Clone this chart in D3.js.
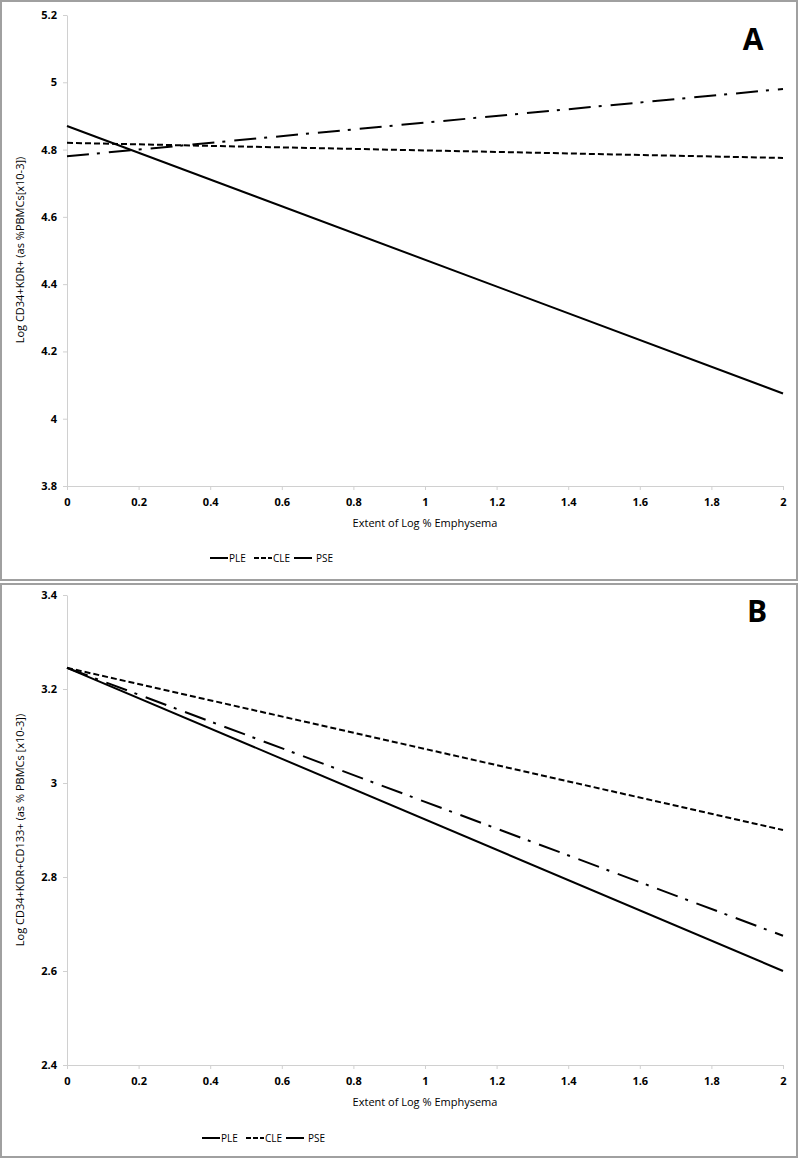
<!DOCTYPE html>
<html><head><meta charset="utf-8">
<script src="https://cdn.jsdelivr.net/npm/d3@7"></script>
<style>body{margin:0;background:#fff}svg{display:block}text{font-family:"Liberation Sans Narrow","Open Sans",sans-serif}</style>
</head><body><svg id="c" width="800" height="1159"></svg>
<script>
const xDomain = [0, 2];
const xTicks = [0, 0.2, 0.4, 0.6, 0.8, 1, 1.2, 1.4, 1.6, 1.8, 2];
const seriesNames = ["PLE", "CLE", "PSE"];
const aYTicks = [3.8, 4, 4.2, 4.4, 4.6, 4.8, 5, 5.2];
const aPLE = [[0, 4.87], [2, 4.075]];
const aCLE = [[0, 4.82], [2, 4.775]];
const aPSE = [[0, 4.78], [2, 4.98]];
const bYTicks = [2.4, 2.6, 2.8, 3, 3.2, 3.4];
const bPLE = [[0, 3.245], [2, 2.60]];
const bCLE = [[0, 3.245], [2, 2.90]];
const bPSE = [[0, 3.245], [2, 2.675]];

const dashes = {PLE: null, CLE: "6,3", PSE: "22,8,3,9"};
const svg = d3.select("#c");

function panel(cfg) {
  const g = svg.append("g");
  g.append("rect").attr("x", cfg.box[0]).attr("y", cfg.box[1]).attr("width", cfg.box[2]).attr("height", cfg.box[3])
    .attr("fill", "#fff").attr("stroke", "#a0a0a0").attr("stroke-width", 2);
  const x = d3.scaleLinear().domain(xDomain).range([67, 783]);
  const y = d3.scaleLinear().domain(cfg.yDomain).range([cfg.yBottom, cfg.yTop]);
  const xa = g.append("g").attr("transform", `translate(0,${cfg.yBottom})`)
    .call(d3.axisBottom(x).tickValues(xTicks).tickSize(4).tickSizeOuter(0).tickPadding(8).tickFormat(d => d3.format("~g")(d)));
  const ya = g.append("g").attr("transform", "translate(67,0)")
    .call(d3.axisLeft(y).tickValues(cfg.yTicks).tickSize(4).tickSizeOuter(0).tickPadding(6).tickFormat(d => d3.format("~g")(d)));
  [xa, ya].forEach(a => {
    a.select(".domain").attr("stroke", "#d0d0d0");
    a.selectAll(".tick line").attr("stroke", "#d0d0d0");
    a.selectAll("text").attr("font-size", 11).attr("fill", "#000").attr("font-weight", "bold");
  });
  const line = d3.line().x(d => x(d[0])).y(d => y(d[1]));
  cfg.series.forEach((s, i) => {
    g.append("path").attr("d", line(s)).attr("fill", "none").attr("stroke", "#000").attr("stroke-width", 2)
      .attr("stroke-dasharray", dashes[seriesNames[i]]);
  });
  g.append("text").attr("x", 425).attr("y", cfg.yBottom + 41).attr("text-anchor", "middle")
    .attr("font-size", 11).text("Extent of Log % Emphysema");
  g.append("text").attr("transform", `translate(24,${cfg.yLabelY}) rotate(-90)`).attr("text-anchor", "middle")
    .attr("font-size", 11).text(cfg.yLabel);
  g.append("text").attr("x", cfg.letter[0]).attr("y", cfg.letter[1]).attr("text-anchor", "middle")
    .attr("font-size", 30).attr("font-weight", "bold").attr("font-family", "Liberation Sans, Arial, sans-serif").text(cfg.letterText);
  const lg = g.append("g").attr("transform", `translate(${cfg.legendX},${cfg.legendY})`);
  const offs = [0, 44, 84];
  seriesNames.forEach((n, i) => {
    lg.append("line").attr("x1", offs[i]).attr("x2", offs[i] + 18).attr("y1", 0).attr("y2", 0)
      .attr("stroke", "#000").attr("stroke-width", 2).attr("stroke-dasharray", n === "CLE" ? "5,2" : null);
    lg.append("text").attr("x", offs[i] + (n === "PSE" ? 22 : 19)).attr("y", 4).attr("font-size", 10).text(n);
  });
}

panel({box: [1, 1, 796, 579], yDomain: [3.8, 5.2], yTop: 15, yBottom: 486, yTicks: aYTicks,
  series: [aPLE, aCLE, aPSE], yLabel: "Log CD34+KDR+ (as %PBMCs[x10-3])", yLabelY: 250,
  letter: [753, 50], letterText: "A", legendX: 210, legendY: 558});
panel({box: [1, 584, 796, 573], yDomain: [2.4, 3.4], yTop: 595, yBottom: 1065, yTicks: bYTicks,
  series: [bPLE, bCLE, bPSE], yLabel: "Log CD34+KDR+CD133+ (as % PBMCs [x10-3])", yLabelY: 830,
  letter: [757, 622], letterText: "B", legendX: 202, legendY: 1138});
</script></body></html>
